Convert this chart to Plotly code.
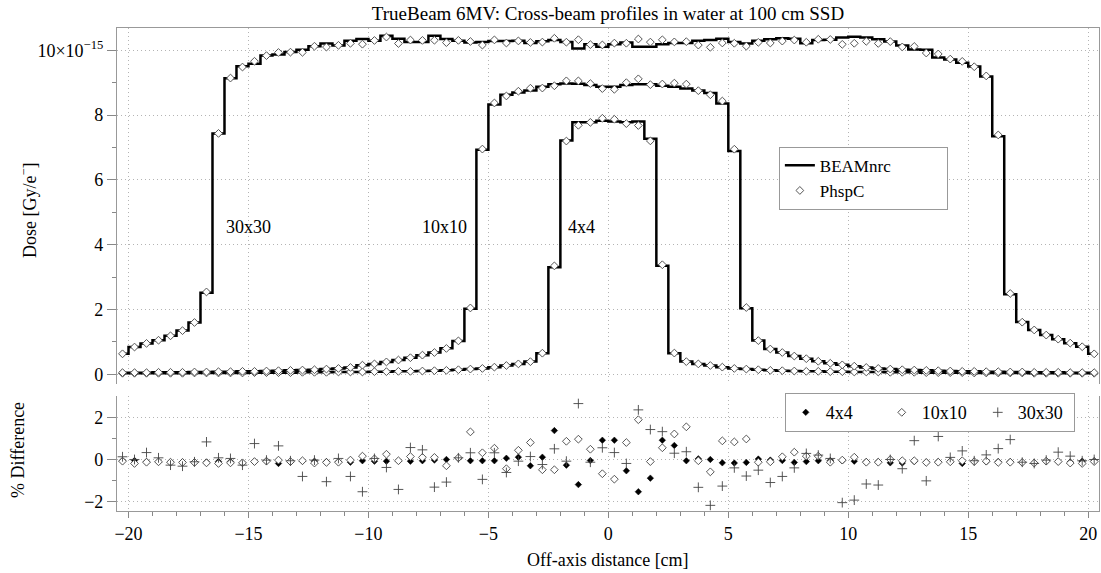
import numpy as np
import plotly.graph_objects as go

# bin centres (0.5 cm bins from -20.5 to 20.5)
off_axis_cm = np.round(np.arange(-20.25, 20.26, 0.5), 2)

# BEAMnrc dose profiles [1e-15 Gy/e-]
beam_30x30 = [0.63, 0.84, 0.95, 1.05, 1.19, 1.35, 1.60, 2.52, 7.43, 9.14,
              9.51, 9.59, 9.84, 9.87, 9.95, 10.02, 10.13, 10.21, 10.15, 10.30,
              10.35, 10.30, 10.45, 10.36, 10.26, 10.26, 10.45, 10.35, 10.30, 10.24,
              10.26, 10.29, 10.29, 10.30, 10.23, 10.28, 10.32, 10.26, 10.06, 10.19,
              10.11, 10.19, 10.24, 10.11, 10.11, 10.19, 10.23, 10.23, 10.30, 10.32,
              10.36, 10.26, 10.21, 10.30, 10.34, 10.37, 10.36, 10.22, 10.32, 10.33,
              10.40, 10.42, 10.40, 10.34, 10.27, 10.15, 10.03, 10.02, 9.78, 9.72,
              9.62, 9.50, 9.19, 7.35, 2.47, 1.61, 1.37, 1.21, 1.08, 0.96,
              0.85, 0.63]
beam_10x10 = [0.05, 0.05, 0.05, 0.06, 0.06, 0.06, 0.07, 0.07, 0.08, 0.08,
              0.09, 0.09, 0.10, 0.11, 0.12, 0.13, 0.14, 0.16, 0.18, 0.21,
              0.28, 0.32, 0.38, 0.44, 0.51, 0.59, 0.67, 0.80, 1.03, 2.02,
              6.93, 8.33, 8.63, 8.70, 8.76, 8.88, 8.95, 8.98, 8.97, 8.93,
              8.88, 8.88, 8.93, 8.95, 8.95, 8.91, 8.88, 8.82, 8.76, 8.68,
              8.36, 6.89, 2.04, 1.04, 0.78, 0.67, 0.56, 0.48, 0.40, 0.34,
              0.29, 0.25, 0.21, 0.18, 0.16, 0.14, 0.13, 0.12, 0.11, 0.10,
              0.09, 0.09, 0.08, 0.08, 0.07, 0.07, 0.06, 0.06, 0.06, 0.05,
              0.05, 0.05]
beam_4x4 = [0.03, 0.03, 0.03, 0.03, 0.03, 0.03, 0.04, 0.04, 0.04, 0.04,
            0.04, 0.05, 0.05, 0.05, 0.05, 0.06, 0.06, 0.06, 0.07, 0.07,
            0.07, 0.08, 0.08, 0.09, 0.09, 0.10, 0.11, 0.12, 0.14, 0.16,
            0.18, 0.22, 0.27, 0.32, 0.39, 0.65, 3.30, 7.22, 7.78, 7.78,
            7.83, 7.80, 7.78, 7.80, 7.27, 3.35, 0.65, 0.39, 0.32, 0.27,
            0.22, 0.18, 0.16, 0.14, 0.12, 0.11, 0.10, 0.09, 0.09, 0.08,
            0.08, 0.07, 0.07, 0.07, 0.06, 0.06, 0.06, 0.05, 0.05, 0.05,
            0.05, 0.04, 0.04, 0.04, 0.04, 0.04, 0.03, 0.03, 0.03, 0.03,
            0.03, 0.03]

# % difference PhspC vs BEAMnrc
diff_4x4 = [-0.05, -0.05, -0.10, -0.10, -0.12, -0.12, -0.14, -0.12, -0.10, -0.10,
            -0.15, -0.10, -0.08, -0.19, -0.13, -0.08, -0.08, -0.10, -0.10, -0.13,
            -0.06, -0.08, -0.08, -0.06, -0.08, -0.06, -0.03, 0.00, 0.05, -0.06,
            -0.06, -0.06, 0.06, 0.11, -0.30, 0.11, 1.38, -0.27, -1.20, -0.05,
            0.92, 0.92, -0.54, -1.54, -0.89, 0.92, 0.67, -0.06, 0.03, 0.00,
            -0.16, -0.17, -0.14, 0.02, -0.03, -0.05, -0.14, -0.10, -0.06, -0.05,
            -0.06, -0.08, -0.10, -0.10, -0.16, -0.17, -0.10, -0.12, -0.10, -0.08,
            -0.19, -0.11, -0.11, -0.10, -0.10, -0.14, -0.16, -0.08, -0.10, -0.12,
            -0.08, -0.06]
diff_10x10 = [-0.08, -0.19, -0.13, -0.11, -0.13, -0.14, -0.14, -0.16, -0.19, -0.16,
              -0.16, -0.10, -0.08, -0.03, -0.10, -0.06, -0.17, -0.14, -0.13, -0.03,
              0.16, 0.03, 0.25, -0.06, 0.14, 0.10, 0.10, -0.30, 0.08, 1.32,
              0.32, 0.54, -0.44, 0.44, 0.81, -0.49, -0.49, 0.87, 0.97, 0.49,
              -0.68, -0.94, 0.81, 1.90, -0.10, 0.56, 1.22, 1.56, -0.06, -0.59,
              0.89, 0.84, 0.98, -0.13, -0.11, 0.13, 0.35, 0.16, 0.16, -0.13,
              -0.03, 0.11, -0.13, -0.13, 0.00, -0.06, -0.06, -0.14, -0.13, -0.11,
              -0.06, -0.10, -0.08, -0.14, -0.13, -0.14, -0.17, -0.08, -0.10, -0.17,
              -0.19, -0.10]
diff_30x30 = [0.13, 0.00, 0.33, 0.08, -0.27, -0.32, -0.11, 0.84, 0.08, 0.05,
              -0.27, 0.76, -0.03, 0.65, -0.06, -0.81, -0.03, -1.06, 0.05, -0.81,
              -1.54, 0.05, -0.38, -1.43, 0.57, 0.46, -1.32, -1.08, 0.08, 0.32,
              -0.95, 0.32, -0.62, -0.08, 0.14, -0.24, 0.51, -0.08, 2.67, -0.13,
              0.56, 0.33, -0.19, 2.37, 1.43, 1.33, 0.30, 0.37, -1.33, -2.19,
              -1.27, -0.40, -0.79, -0.51, -1.10, -0.81, -0.40, 0.29, 0.21, 0.05,
              -2.06, -1.94, -1.17, -1.22, 0.00, -0.44, 0.90, -1.02, 1.10, 0.10,
              0.41, -0.06, 0.22, 0.52, 0.95, -0.13, -0.19, -0.03, 0.35, 0.16,
              -0.06, 0.00]

field_labels = ["4x4", "10x10", "30x30"]
beam = {"4x4": beam_4x4, "10x10": beam_10x10, "30x30": beam_30x30}
diff = {"4x4": diff_4x4, "10x10": diff_10x10, "30x30": diff_30x30}
for k in field_labels:
    assert len(beam[k]) == len(off_axis_cm) == len(diff[k])

FONT = "Liberation Serif"
fig = go.Figure()

# top panel: profiles
for i, k in enumerate(field_labels):
    b = np.array(beam[k])
    fig.add_trace(go.Scatter(
        x=off_axis_cm, y=b, mode="lines", line=dict(color="black", width=2.5, shape="hvh"),
        name="BEAMnrc\u2003\u2003\u2003", showlegend=(i == 0), legend="legend", xaxis="x2", yaxis="y2"))
for i, k in enumerate(field_labels):
    p = np.array(beam[k]) * (1 + np.array(diff[k]) / 100.0)
    fig.add_trace(go.Scatter(
        x=off_axis_cm, y=p, mode="markers",
        marker=dict(symbol="diamond", size=6, color="white", line=dict(color="#555", width=1)),
        name="PhspC", showlegend=(i == 0), legend="legend", xaxis="x2", yaxis="y2"))

# bottom panel: % difference
fig.add_trace(go.Scatter(
    x=off_axis_cm, y=diff_4x4, mode="markers", name="4x4",
    marker=dict(symbol="diamond", size=5, color="black", line=dict(color="black", width=0.5)),
    legend="legend2", xaxis="x", yaxis="y"))
fig.add_trace(go.Scatter(
    x=off_axis_cm, y=diff_10x10, mode="markers", name="10x10",
    marker=dict(symbol="diamond", size=6, color="white", line=dict(color="#444", width=0.9)),
    legend="legend2", xaxis="x", yaxis="y"))
fig.add_trace(go.Scatter(
    x=off_axis_cm, y=diff_30x30, mode="markers", name="30x30",
    marker=dict(symbol="cross-thin", size=7, color="#444", line=dict(color="#444", width=0.9)),
    legend="legend2", xaxis="x", yaxis="y"))

xr = [-20.48, 20.45]
grid = dict(showgrid=True, gridcolor="#b4b4b4", griddash="1px,3px", gridwidth=1, zeroline=False)
axline = dict(showline=True, linecolor="#999", linewidth=1.2)
tickfont = dict(family=FONT, size=18, color="black")

fig.update_layout(
    width=1101, height=573,
    margin=dict(l=117, r=2, t=28, b=62),
    paper_bgcolor="white", plot_bgcolor="white",
    font=dict(family=FONT, size=18, color="black"),
    title=dict(text="TrueBeam 6MV: Cross-beam profiles in water at 100 cm SSD",
               x=0.5, xref="paper", xanchor="center", y=1 - 13 / 573, yanchor="middle",
               font=dict(family=FONT, size=19, color="black")),
    xaxis=dict(domain=[0, 1], range=xr, anchor="y", **grid, **axline,
               tickmode="array", tickvals=[-20, -15, -10, -5, 0, 5, 10, 15, 20],
               ticktext=["−20", "−15", "−10", "−5", "0", "5", "10", "15", "20"],
               ticks="outside", ticklen=6, tickcolor="#888", tickfont=tickfont,
               minor=dict(dtick=1, tick0=0, ticks="outside", ticklen=4, tickcolor="#888", showgrid=False)),
    yaxis=dict(domain=[0, 0.238], range=[-2.46, 3.03], anchor="x", **grid, **axline, mirror=True,
               tickmode="array", tickvals=[-2, 0, 2], ticktext=["−2", "0", "2"],
               ticks="outside", ticklen=9, tickcolor="#888", tickfont=tickfont,
               minor=dict(tickvals=[-1, 1], ticks="outside", ticklen=4, tickcolor="#888", showgrid=False)),
    xaxis2=dict(domain=[0, 1], range=xr, anchor="y2", side="top", matches="x", **grid, **axline,
                tickvals=[-20, -15, -10, -5, 0, 5, 10, 15, 20], showticklabels=False, ticks=""),
    yaxis2=dict(domain=[0.263, 1], range=[-0.3, 10.69], anchor="x2", **grid, **axline, mirror=True,
                tickmode="array", tickvals=[0, 2, 4, 6, 8, 10],
                ticktext=["0", "2", "4", "6", "8", "10×10<sup>−15</sup>"],
                ticks="outside", ticklen=9, tickcolor="#888", tickfont=tickfont,
                minor=dict(tickvals=[1, 3, 5, 7, 9], ticks="outside", ticklen=4, tickcolor="#888", showgrid=False)),
    legend=dict(x=0.674, y=0.754, xanchor="left", yanchor="top", bgcolor="white",
                bordercolor="#999", borderwidth=1, font=dict(family=FONT, size=17),
                tracegroupgap=0, itemwidth=30),
    legend2=dict(orientation="h", x=0.680, y=0.244, xanchor="left", yanchor="top", bgcolor="white",
                 bordercolor="#999", borderwidth=1, font=dict(family=FONT, size=18),
                 entrywidth=51, entrywidthmode="pixels"),
    annotations=[
        dict(text="30x30", x=-15.0, y=4.55, xref="x2", yref="y2", showarrow=False, font=dict(size=18)),
        dict(text="10x10", x=-6.83, y=4.55, xref="x2", yref="y2", showarrow=False, font=dict(size=18)),
        dict(text="4x4", x=-1.1, y=4.55, xref="x2", yref="y2", showarrow=False, font=dict(size=18)),
        dict(text="Dose [Gy/e<sup>−</sup>]", x=(28 - 117) / 982, y=(511 - 210) / 483, xref="paper", yref="paper",
             textangle=-90, showarrow=False, xanchor="center", yanchor="middle", font=dict(size=18)),
        dict(text="% Difference", x=(18 - 117) / 982, y=(511 - 450) / 483, xref="paper", yref="paper",
             textangle=-90, showarrow=False, xanchor="center", yanchor="middle", font=dict(size=18)),
        dict(text="Off-axis distance [cm]", x=0.5, y=(511 - 560) / 483, xref="paper", yref="paper",
             showarrow=False, xanchor="center", yanchor="middle", font=dict(size=18)),
    ],
)

fig.write_html("out.html")
